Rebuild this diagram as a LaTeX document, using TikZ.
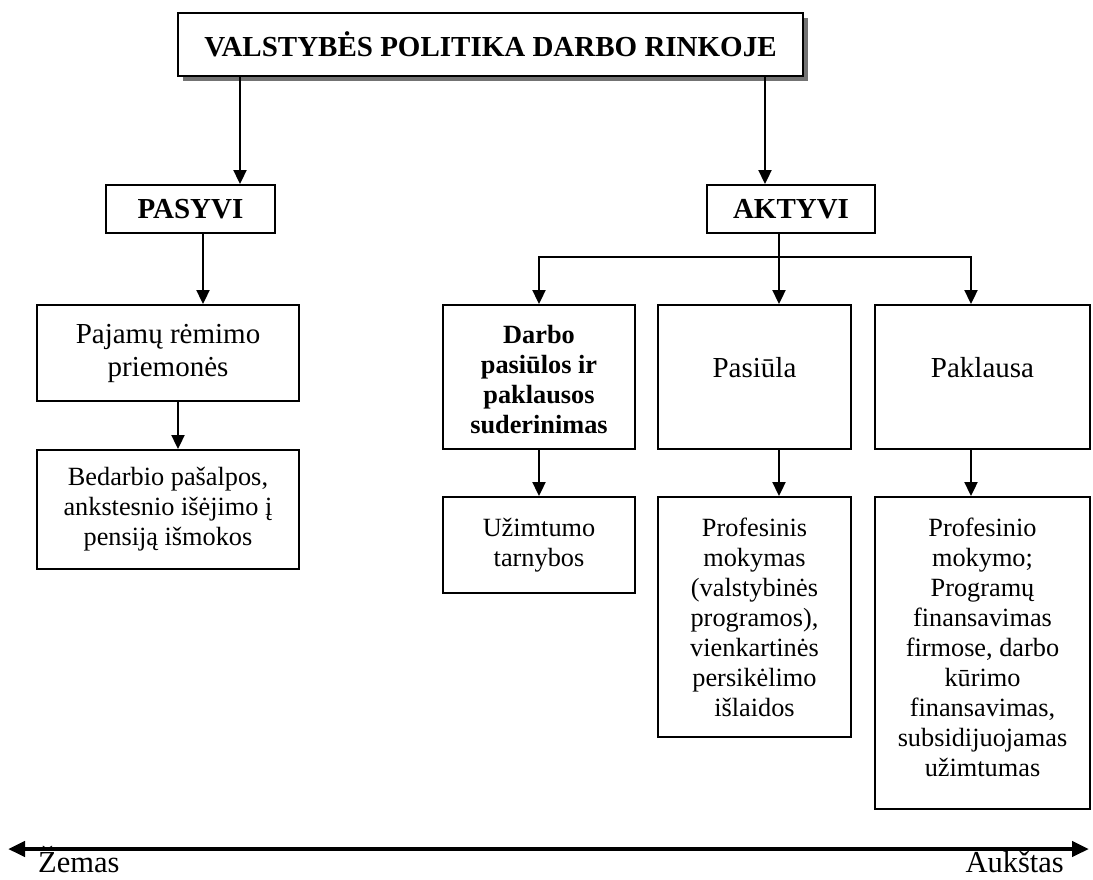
\documentclass[tikz,border=0pt]{standalone}
\usepackage{fontspec}
\setmainfont{Liberation Serif}
\usetikzlibrary{arrows.meta,shadows}
\newcommand\myBody{\fontsize{26.3}{30}\selectfont}
\newcommand\myBig{\fontsize{29}{33}\selectfont}
\newcommand\myAxis{\fontsize{30.5}{34}\selectfont}
\tikzset{
  box/.style={draw, line width=2pt, inner sep=0pt, align=center, font=\myBody},
  bigbox/.style={box, font=\myBig},
  hdr/.style={box, font=\myBig\bfseries},
  arr/.style={line width=2.3pt, -{Triangle[length=14pt,width=13pt]}},
  axis/.style={line width=4.5pt, {Triangle[length=17pt,width=15pt]}-{Triangle[length=17pt,width=15pt]}},
  axlbl/.style={inner sep=0pt, font=\myAxis}
}
\begin{document}
\begin{tikzpicture}[x=1pt,y=-1pt]
\useasboundingbox (0,0) rectangle (1093,879);
% title
\node[hdr, minimum width=625pt, minimum height=63pt,
      drop shadow={shadow xshift=4.5pt, shadow yshift=-4.5pt, fill=black!55, opacity=1}, fill=white]
      (title) at (490.5,44.5) {VALSTYBĖS POLITIKA DARBO RINKOJE};
% level 2
\node[hdr, minimum width=169pt, minimum height=48pt] (pasyvi) at (190.5,209) {PASYVI};
\node[hdr, minimum width=168pt, minimum height=48pt] (aktyvi) at (791,209) {AKTYVI};
% left column
\node[bigbox, minimum width=262pt, minimum height=96pt] (pajamu) at (168,353) {Pajamų rėmimo\\priemonės};
\node[box, minimum width=262pt, minimum height=119pt] (bedarbio) at (168,509.5) {Bedarbio pašalpos,\\ankstesnio išėjimo į\\pensiją išmokos};
% right row 2
\node[box, font=\myBody\bfseries, minimum width=192pt, minimum height=144pt] (darbo) at (539,377) {\rule{0pt}{24pt}Darbo\\pasiūlos ir\\paklausos\\suderinimas};
\node[bigbox, minimum width=193pt, minimum height=144pt, text height=20pt, text depth=19pt] (pasiula) at (754.5,377) {Pasiūla};
\node[bigbox, minimum width=215pt, minimum height=144pt, text height=20pt, text depth=19pt] (paklausa) at (982.5,377) {Paklausa};
% right row 3
\node[box, minimum width=192pt, minimum height=96pt] (uzimt) at (539,545) {Užimtumo\\tarnybos};
\node[box, minimum width=193pt, minimum height=240pt] (prof1) at (754.5,617) {Profesinis\\mokymas\\(valstybinės\\programos),\\vienkartinės\\persikėlimo\\išlaidos};
\node[box, minimum width=215pt, minimum height=312pt, text depth=12pt] (prof2) at (982.5,653) {Profesinio\\mokymo;\\Programų\\finansavimas\\firmose, darbo\\kūrimo\\finansavimas,\\subsidijuojamas\\užimtumas};
% helper coordinates
\coordinate (xL) at (240,0);
\coordinate (xR) at (765,0);
\coordinate (xP) at (203,0);
\coordinate (xB) at (178,0);
\coordinate (xS) at (779,0);
\coordinate (xK) at (971,0);
\coordinate (branch) at (779,257);
% connectors
\draw[arr] (title.south -| xL) -- (pasyvi.north -| xL);
\draw[arr] (title.south -| xR) -- (aktyvi.north -| xR);
\draw[arr] (pasyvi.south -| xP) -- (pajamu.north -| xP);
\draw[arr] (pajamu.south -| xB) -- (bedarbio.north -| xB);
\draw[arr] (aktyvi.south -| xS) -- (pasiula.north -| xS);
\draw[arr] (branch) -| (darbo.north);
\draw[arr] (branch) -| (paklausa.north -| xK);
\draw[arr] (darbo.south) -- (uzimt.north);
\draw[arr] (pasiula.south -| xS) -- (prof1.north -| xS);
\draw[arr] (paklausa.south -| xK) -- (prof2.north -| xK);
% axis
\coordinate (lo) at (8,849);
\coordinate (hi) at (1089,849);
\draw[axis] (lo) -- (hi);
\node[axlbl, anchor=base west] (zemas) at (38,872) {Žemas};
\node[axlbl, anchor=base east] (aukstas) at (1064,872) {Aukštas};
\end{tikzpicture}
\end{document}
